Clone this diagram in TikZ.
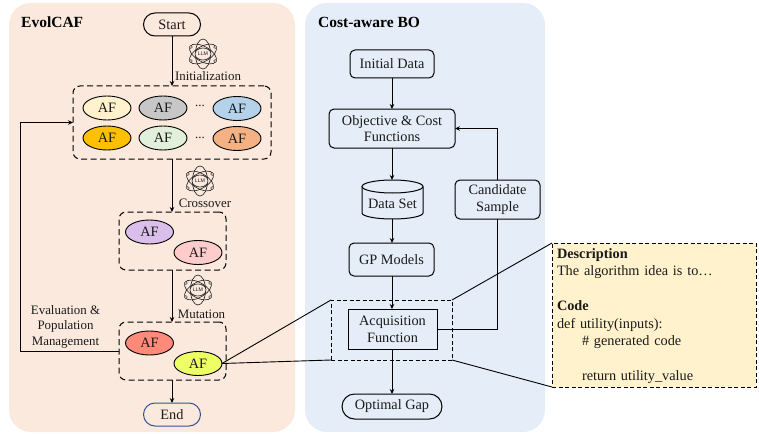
\documentclass[tikz,border=0pt]{standalone}
\usepackage{fontspec}
\setmainfont{Liberation Serif}
\setsansfont{Liberation Sans}
\usetikzlibrary{arrows.meta}
\usetikzlibrary{shapes.geometric}
\definecolor{panelL}{HTML}{FBE9DD}
\definecolor{panelR}{HTML}{E5EDF8}
\definecolor{codeY}{HTML}{FFF2CC}
\definecolor{inkk}{HTML}{1A1A1A}
\definecolor{endblue}{HTML}{2F5597}
\newcommand{\dn}[1]{\raisebox{-.6pt}{#1}}
\tikzset{
  x=1pt,y=-1pt,
  panel/.style={draw=none,rounded corners=22pt},
  txt/.style={font=\fontsize{14.3}{16.7}\selectfont,text=inkk,align=center,inner sep=0pt,outer sep=0pt},
  lbl/.style={font=\fontsize{12.9}{15.5}\selectfont,text=inkk,align=center,inner sep=0pt,outer sep=0pt},
  ttl/.style={font=\fontsize{15.5}{18}\selectfont\bfseries,text=black,anchor=west,inner sep=0pt},
  afnode/.style={draw=black,line width=.9pt,ellipse,minimum width=48pt,minimum height=24pt,inner sep=0pt,outer sep=0pt,font=\fontsize{14.3}{16}\selectfont,text=inkk},
  flowbox/.style={txt,draw=black,line width=1pt,rounded corners=5pt},
  pill/.style={txt,draw=black,line width=1pt,rounded corners=11.5pt},
  group/.style={draw=black,line width=1pt,dash pattern=on 6pt off 3.5pt,rounded corners=7pt,minimum width=0pt,inner sep=0pt,outer sep=0pt},
  zoombox/.style={draw=black,line width=1pt,dash pattern=on 4pt off 2.5pt,inner sep=0pt,outer sep=0pt},
  arr/.style={draw=black,line width=.9pt,-{Stealth[length=5pt,width=4.5pt]}},
  conn/.style={draw=black,line width=.9pt},
  pics/llmicon/.style={code={
    \foreach \a in {90,30,-30}{\draw[line width=.6pt,draw=inkk,rotate=\a] (0,0) ellipse (15pt and 7.5pt);}
    \draw[line width=.6pt,draw=inkk,fill=panelL] (0,0) ellipse (8pt and 6pt);
    \foreach \a in {30,150,210,330}{\draw[line width=.5pt,draw=inkk,fill=panelL] (\a:14pt) circle (1.5pt);}
    \node[font=\fontsize{5.2}{6}\selectfont\sffamily,text=inkk,inner sep=0pt] at (0,0) {LLM};
  }},
}
\begin{document}
\begin{tikzpicture}
\useasboundingbox (0,0) rectangle (759,433);
% panels
\fill[panelL,panel] (9,3) rectangle (295,432);
\fill[panelR,panel] (305,3) rectangle (545,432);
\node[ttl] (tl) at (21,22) {EvolCAF};
\node[ttl] (tr) at (318,22) {Cost-aware BO};
% left flow
\node[pill,minimum width=57pt,minimum height=23pt] (start) at (172,24.5) {\dn{Start}};
\node[group,minimum width=198pt,minimum height=73pt] (g1) at (172,122.5) {};
\node[group,minimum width=107pt,minimum height=58pt] (g2) at (172.5,241) {};
\node[group,minimum width=107pt,minimum height=58pt] (g3) at (172.5,351) {};
\node[pill,draw=endblue,minimum width=57pt,minimum height=23pt] (end) at (172,414.5) {\dn{End}};
\node[afnode,fill=codeY] (a1) at (107,108) {AF};
\node[afnode,fill=black!22] (a2) at (163,108) {AF};
\node[afnode,fill={rgb,255:red,180;green,210;blue,236}] (a3) at (237,108.5) {AF};
\node[afnode,fill={rgb,255:red,255;green,192;blue,0}] (a4) at (107,138) {AF};
\node[afnode,fill={rgb,255:red,226;green,239;blue,218}] (a5) at (163,138) {AF};
\node[afnode,fill={rgb,255:red,244;green,177;blue,131}] (a6) at (237,138.5) {AF};
\node[lbl] (d1) at (200,105.5) {...};
\node[lbl] (d2) at (200,138) {...};
\node[afnode,fill={rgb,255:red,217;green,191;blue,234}] (b1) at (149.5,232) {AF};
\node[afnode,fill={rgb,255:red,255;green,204;blue,204}] (b2) at (198,252.5) {AF};
\node[afnode,fill={rgb,255:red,255;green,138;blue,122}] (c1) at (149.5,343) {AF};
\node[afnode,fill={rgb,255:red,238;green,255;blue,102}] (c2) at (198,363.5) {AF};
\pic at (203,54) {llmicon};
\pic at (200,181) {llmicon};
\pic at (198,290) {llmicon};
\node[lbl] (l1) at (208,76) {Initialization};
\node[lbl] (l2) at (205,203) {Crossover};
\node[lbl] (l3) at (201.5,314) {Mutation};
\node[lbl] (l4) at (65.5,326.5) {Evaluation \&\\Population\\Management};
\coordinate (fb) at (20,351);
\draw[arr] (start.south) -- (g1.north);
\draw[arr] (g1.south) -- (g2.north -| g1.south);
\draw[arr] (g2.south -| g1.south) -- (g3.north -| g1.south);
\draw[arr] (g3.south -| g1.south) -- (end.north);
\draw[arr] (g3.west) -- (fb) |- (g1.west);
% right flow
\node[flowbox,minimum width=84pt,minimum height=28pt] (init) at (392,64) {\dn{Initial Data}};
\node[flowbox,minimum width=126pt,minimum height=39pt] (obj) at (392,128.5) {Objective \& Cost\\Functions};
\node[txt,minimum width=61pt,minimum height=39pt] (ds) at (392.5,199.5) {};
\draw[line width=1pt,draw=black] (392.5,186.5) ellipse (30.5pt and 6.5pt);
\draw[line width=1pt,draw=black] (362,186.5) -- (362,213) arc[x radius=30.5pt,y radius=6pt,start angle=180,end angle=360] -- (423,186.5);
\node[txt] (dst) at (392.5,203.5) {Data Set};
\node[flowbox,minimum width=85pt,minimum height=39pt] (cand) at (497.5,199.5) {Candidate\\Sample};
\node[flowbox,minimum width=85pt,minimum height=33pt] (gp) at (391.5,259.5) {\dn{GP Models}};
\node[zoombox,minimum width=121pt,minimum height=60pt] (zb) at (391.5,330) {};
\node[txt,draw=black,line width=1pt,minimum width=89pt,minimum height=40pt] (acq) at (392.5,329) {Acquisition\\Function};
\node[pill,rounded corners=12.5pt,minimum width=100pt,minimum height=25pt] (gap) at (392,406.5) {\dn{Optimal Gap}};
\draw[arr] (init.south) -- (obj.north);
\draw[arr] (obj.south) -- (ds.north -| obj.south);
\draw[arr] (ds.south -| obj.south) -- (gp.north -| obj.south);
\draw[arr] (gp.south -| obj.south) -- (acq.north -| obj.south);
\draw[arr] (acq.south -| obj.south) -- (gap.north);
\draw[conn] (acq.east) -| (cand.south);
\draw[arr] (cand.north) |- (obj.east);
% zoom box
\node[zoombox,fill=codeY,minimum width=204pt,minimum height=144pt,text width=194pt,align=left,font=\fontsize{14.3}{17.5}\selectfont,text=inkk,inner xsep=0pt] (code) at (654,315) {%
\rule{0pt}{14.25pt}\strut\textbf{Description}\\
\strut The algorithm idea is to…\\
\strut\\
\strut\textbf{Code}\\
\strut def utility(inputs):\\
\strut\hspace{25pt}\# generated code\\
\strut\\
\strut\hspace{25pt}return utility\_value};
\draw[conn] (c2.east) -- (zb.north west);
\draw[conn] (c2.east) -- (zb.south west);
\draw[conn] (zb.north east) -- (code.north west);
\draw[conn] (zb.south east) -- (code.south west);
\end{tikzpicture}
\end{document}
